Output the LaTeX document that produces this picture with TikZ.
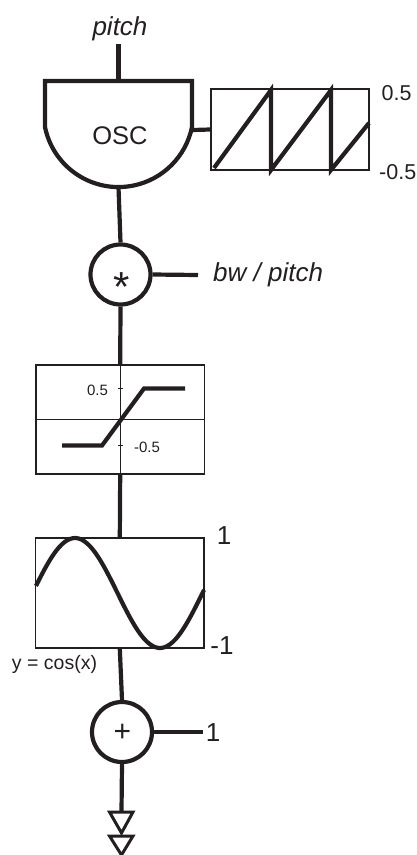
\documentclass[tikz,border=0pt]{standalone}
\usepackage{fontspec}
\setmainfont{Liberation Sans}
\definecolor{ink}{HTML}{231F20}
\tikzset{
  wire/.style={draw=ink,line width=4.2pt},
  thin box/.style={draw=ink,line width=1.7pt,fill=none,inner sep=0pt,rectangle},
  curve/.style={draw=ink,line width=4.2pt,line join=miter},
  hair/.style={draw=ink,line width=1pt},
  op/.style={circle,draw=ink,line width=4.2pt,inner sep=0pt,minimum size=60pt,text=ink},
  lab/.style={text=ink,inner sep=0pt,font=\fontsize{#1}{#1}\selectfont},
  ilab/.style={text=ink,inner sep=0pt,font=\fontsize{#1}{#1}\selectfont\itshape},
  tri/.style={draw=ink,line width=3pt,line join=miter,fill=white},
}
\begin{document}
\begin{tikzpicture}[x=1pt,y=-1pt]
\useasboundingbox (0,0) rectangle (417,855);
% oscillator
\node[ilab=26] (pitch) at (120,29) {pitch};
\coordinate (pitchend) at (118.5,44);
\node[inner sep=0pt,minimum width=147pt,minimum height=106pt] (oscbody) at (118.5,134) {};
\draw[draw=ink,line width=4.2pt,line join=miter] (45,81) -- (45,127) arc[start angle=168.5,end angle=11.5,radius=75] -- (192,81) -- cycle;
\node[lab=25.5] (osctext) at (120,136) {OSC};
\node[thin box,minimum width=158pt,minimum height=81pt] (saw) at (290,129.5) {};
\draw[curve] (214,168) -- (271,90) -- (271,170) -- (331,90) -- (331,170) -- (369,123);
\node[lab=21.5,anchor=west] (sawhi) at (381.5,93.5) {0.5};
\node[lab=21.5,anchor=west] (sawlo) at (379,172) {-0.5};
\draw[wire] (pitchend) -- (oscbody.north);
\draw[wire] (193,130) -- (saw.west);
% multiply
\node[op] (mul) at (120.5,274.5) {};
\node[lab=42] (star) at (121.5,287) {*};
\coordinate (bwend) at (198,275);
\node[ilab=26,anchor=west] (bw) at (213,274.5) {bw / pitch};
\draw[wire] (oscbody.south) -- (mul.north);
\draw[wire] (mul.east) -- (bwend);
% limiter
\node[thin box,minimum width=168.5pt,minimum height=109pt] (limit) at (120.2,419.5) {};
\draw[hair] (limit.west) -- (limit.east);
\draw[hair] (limit.north) -- (limit.south);
\draw[hair] (118,388) -- (123,388) (118,445) -- (123,445);
\draw[curve] (62,445.5) -- (102,445.5) -- (144,388.5) -- (185,388.5);
\node[lab=15] (limhi) at (97.5,390) {0.5};
\node[lab=15] (limlo) at (147,447) {-0.5};
\draw[wire] (mul.south) -- (limit.north);
% cosine
\node[thin box,minimum width=168.5pt,minimum height=110pt] (cosbox) at (119.8,593) {};
\draw[curve] plot[domain=36:204,samples=60,smooth] (\x,{593-55*cos((\x-75)*2.1176)});
\node[lab=26] (cosh) at (224,536) {1};
\node[lab=26] (cosl) at (222,646) {-1};
\node[lab=19.5] (cosname) at (54.5,664) {y = cos(x)};
\draw[wire] (limit.south) -- (cosbox.north);
% add
\node[op] (add) at (122,732) {};
\node[lab=30] (plus) at (122.5,733) {+};
\coordinate (oneend) at (203,732);
\node[lab=26] (one) at (213,733) {1};
\draw[wire] (cosbox.south) -- (add.north);
\draw[wire] (add.east) -- (oneend);
% output
\coordinate (tria) at (121.5,812);
\draw[wire] (add.south) -- (tria);
\draw[tri] (109.5,812) -- (133,812) -- (121.5,833) -- cycle;
\draw[tri] (109.5,836) -- (133,836) -- (121.5,855) -- cycle;
\end{tikzpicture}
\end{document}
